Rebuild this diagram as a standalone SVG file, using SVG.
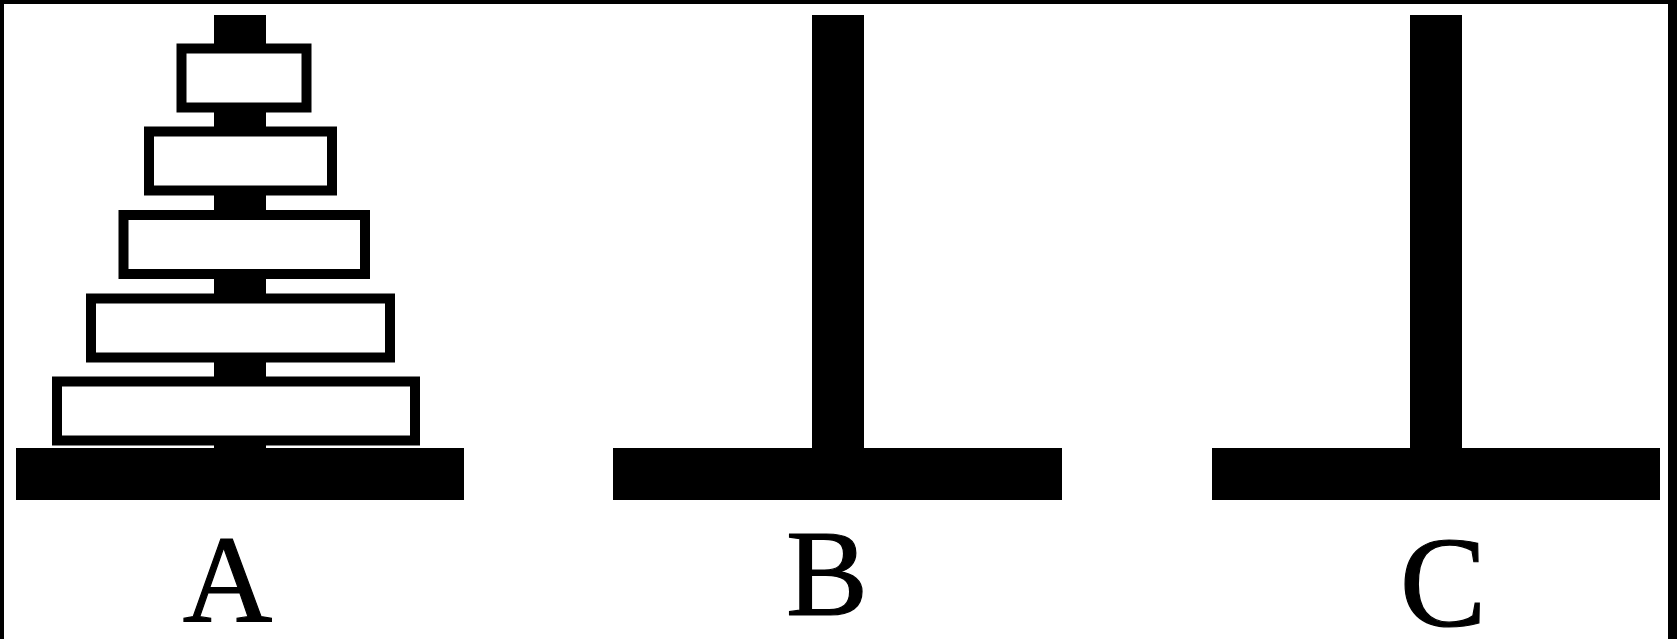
<svg xmlns="http://www.w3.org/2000/svg" width="1677" height="639" viewBox="0 0 1677 639">
<style>
.peg{fill:#000}
.base{fill:#000}
.disc{fill:#fff;stroke:#000;stroke-width:10}
.lbl{fill:#000;stroke:#000;stroke-width:1.2;text-anchor:middle}
</style>
<rect x="0" y="0" width="1677" height="639" fill="#fff"/>
<g id="frame">
<rect x="0" y="0" width="1677" height="4" fill="#000"/>
<rect x="0" y="0" width="4" height="639" fill="#000"/>
<rect x="1668" y="0" width="9" height="639" fill="#000"/>
</g>
<g id="tower-A">
<rect class="peg" x="214" y="15" width="52" height="440"/>
<rect class="base" x="16" y="448" width="448" height="52"/>
<rect class="disc" x="57" y="381.5" width="358" height="59"/>
<rect class="disc" x="91" y="298.5" width="299" height="59"/>
<rect class="disc" x="123.5" y="215" width="241.5" height="59"/>
<rect class="disc" x="149" y="131.5" width="183" height="59"/>
<rect class="disc" x="181.5" y="48.5" width="125" height="59"/>
<text class="lbl" x="227.5" y="622" font-family="Liberation Serif, Tinos, Times New Roman, Times, serif" font-size="124">A</text>
</g>
<g id="tower-B">
<rect class="peg" x="812" y="15" width="52" height="440"/>
<rect class="base" x="613" y="448" width="449" height="52"/>
<text class="lbl" x="827" y="615" font-family="Liberation Serif, Tinos, Times New Roman, Times, serif" font-size="123">B</text>
</g>
<g id="tower-C">
<rect class="peg" x="1410" y="15" width="52" height="440"/>
<rect class="base" x="1212" y="448" width="448" height="52"/>
<text class="lbl" x="1443" y="626" font-family="Liberation Serif, Tinos, Times New Roman, Times, serif" font-size="130">C</text>
</g>
<g id="connectors"></g>
</svg>
